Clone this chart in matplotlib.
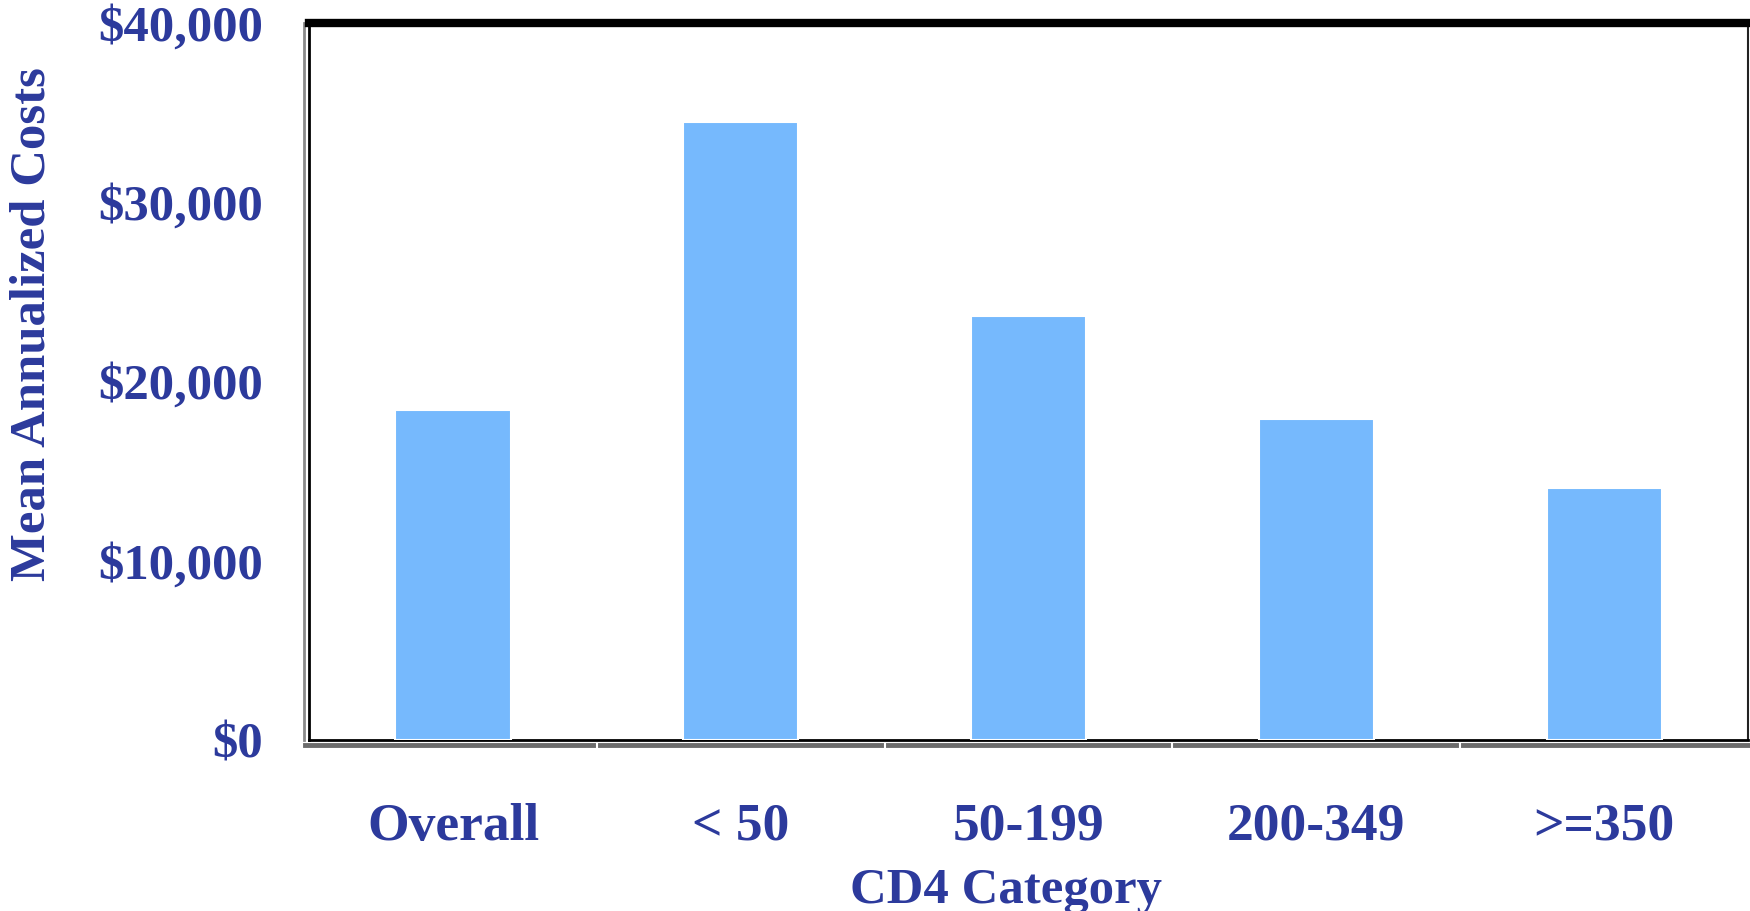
import matplotlib
matplotlib.use("Agg")
import matplotlib.pyplot as plt
import matplotlib.transforms as mtransforms
from matplotlib.ticker import FuncFormatter

# Mean annualized costs by CD4 category
categories = ["Overall", "< 50", "50-199", "200-349", ">=350"]
costs = [18400, 34500, 23650, 17900, 14050]
y_ticks = [0, 10000, 20000, 30000, 40000]

TEXT_COLOR = "#2c3a9c"
BAR_COLOR = "#76b9fd"
FONT = ["Liberation Serif", "DejaVu Serif"]

fig = plt.figure(figsize=(17.5, 9.11), dpi=100)
fig.patch.set_facecolor("white")
ax = fig.add_axes([0.1766, 0.1877, 0.8223, 0.7871])

x = list(range(len(categories)))
ax.bar(x, costs, width=0.4, color=BAR_COLOR, edgecolor="white",
       linewidth=1.5, zorder=3)

ax.set_xlim(-0.5, len(categories) - 0.5)
ax.set_ylim(0, 40000)

# y axis: dollar labels
ax.set_yticks(y_ticks)
ax.yaxis.set_major_formatter(FuncFormatter(lambda v, p: f"${v:,.0f}"))
ax.tick_params(axis="y", length=4, width=1.5, color="white", direction="inout",
               pad=31, labelsize=36.5, labelcolor=TEXT_COLOR)

# x axis: category labels, separators between groups
ax.set_xticks(x)
ax.set_xticklabels(categories)
ax.set_xticks([i + 0.5 for i in x[:-1]], minor=True)
ax.tick_params(axis="x", which="major", length=0, pad=45,
               labelsize=38.5, labelcolor=TEXT_COLOR)
ax.tick_params(axis="x", which="minor", length=12, width=1.5,
               color="white", direction="inout")

for lab in ax.get_xticklabels() + ax.get_yticklabels():
    lab.set_family(FONT)
    lab.set_fontweight("bold")

ax.set_ylabel("Mean Annualized Costs", fontsize=36.5, fontweight="bold",
              color=TEXT_COLOR, family=FONT)
ax.yaxis.set_label_coords(-0.176, 0.58)
ax.set_xlabel("CD4 Category", fontsize=36.5, fontweight="bold",
              color=TEXT_COLOR, family=FONT)
ax.xaxis.set_label_coords(0.484, -0.178)

# frame: heavy top, thin right, double line left/bottom
ax.spines["top"].set_linewidth(6)
ax.spines["top"].set_color("black")
ax.spines["right"].set_linewidth(1.5)
ax.spines["right"].set_color("#222222")
ax.spines["left"].set_linewidth(2)
ax.spines["left"].set_color("black")
ax.spines["bottom"].set_linewidth(2)
ax.spines["bottom"].set_color("black")

below = mtransforms.offset_copy(ax.transAxes, fig=fig, x=0, y=-5, units="dots")
ax.plot([-0.003, 1.0], [0, 0], transform=below, color="#6b6b6b",
        linewidth=3.5, clip_on=False, zorder=1)
left = mtransforms.offset_copy(ax.transAxes, fig=fig, x=-5, y=0, units="dots")
ax.plot([0, 0], [0, 1], transform=left, color="#8a8a8a",
        linewidth=2, clip_on=False, zorder=1)

fig.savefig("out.png", dpi=100, facecolor="white")
